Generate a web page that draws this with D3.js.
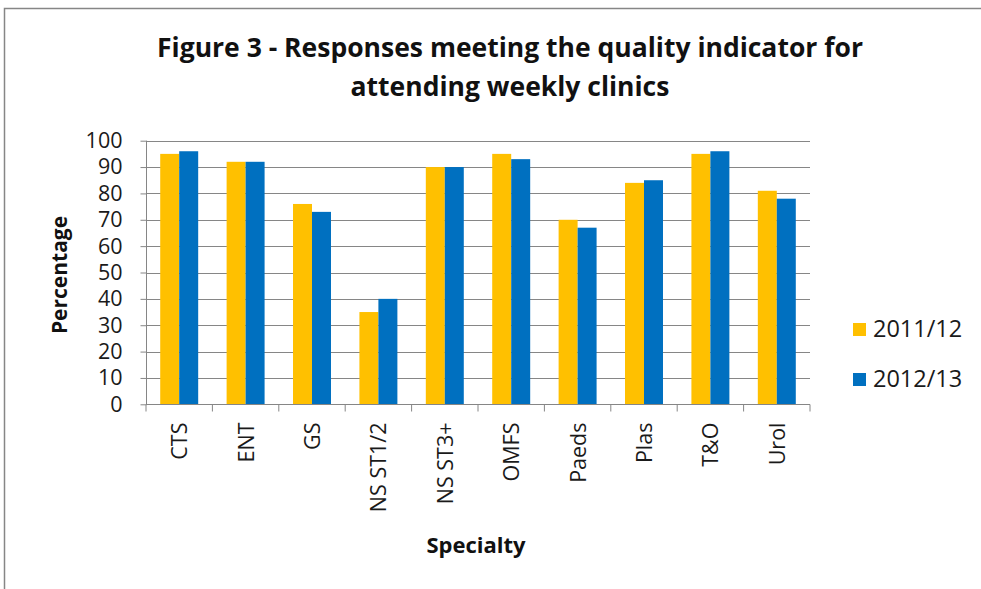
<!DOCTYPE html>
<html><head><meta charset="utf-8">
<script src="https://cdn.jsdelivr.net/npm/d3@7"></script>
<style>body{margin:0;background:#fff;} svg{display:block;}</style>
</head><body>
<script>
const categories = ["CTS","ENT","GS","NS ST1/2","NS ST3+","OMFS","Paeds","Plas","T&O","Urol"];
const seriesNames = ["2011/12","2012/13"];
const values2011 = [95,92,76,35,90,95,70,84,95,81];
const values2012 = [96,92,73,40,90,93,67,85,96,78];
const yTicks = [0,10,20,30,40,50,60,70,80,90,100];
const colors = ["#FFC000","#0070C0"];

(function(){
const W=981,H=589;
const font = "'Open Sans', 'DejaVu Sans', sans-serif";
const svg = d3.select("body").append("svg").attr("width",W).attr("height",H);
svg.append("rect").attr("x",4.5).attr("y",8.5).attr("width",1100).attr("height",1100)
  .attr("fill","#fff").attr("stroke","#868686").attr("stroke-width",1.5);

const pL=146, pR=810, pT=140.7, pB=404.3;
const x = d3.scaleBand().domain(categories).range([pL,pR]).paddingInner(0.428).paddingOuter(0.214);
const xs = d3.scaleBand().domain(seriesNames).range([0,x.bandwidth()]);
const y = d3.scaleLinear().domain([0,100]).range([pB,pT]);

svg.append("g").selectAll("line").data(yTicks.filter(d=>d>0)).join("line")
  .attr("x1",pL).attr("x2",pR).attr("y1",d=>Math.round(y(d))+0.5).attr("y2",d=>Math.round(y(d))+0.5)
  .attr("stroke","#868686").attr("stroke-width",1);

const data = categories.map((c,i)=>({c, v:[values2011[i],values2012[i]]}));
const g = svg.append("g");
data.forEach(d=>{
  seriesNames.forEach((s,j)=>{
    g.append("rect").attr("x",x(d.c)+xs(s)).attr("width",xs.bandwidth())
      .attr("y",y(d.v[j])).attr("height",y(0)-y(d.v[j])).attr("fill",colors[j]);
  });
});

const yAxis = d3.axisLeft(y).tickValues(yTicks).tickSize(6).tickPadding(18).tickFormat(d3.format("d"));
const ya = svg.append("g").attr("transform",`translate(${pL+0.5},0)`).call(yAxis);
ya.select(".domain").attr("stroke","#868686").attr("d",`M0,${pT}V${pB}`);
ya.selectAll(".tick line").attr("stroke","#868686");
ya.selectAll("text").attr("font-family",font).attr("font-size",21.5).attr("fill","#1a1a1a");

const xa = svg.append("g").attr("transform",`translate(0,${Math.round(pB)+0.5})`);
xa.append("line").attr("x1",pL).attr("x2",pR).attr("stroke","#868686");
const bounds = d3.range(categories.length+1).map(i=>pL+i*(pR-pL)/categories.length);
xa.selectAll("line.tk").data(bounds).join("line").attr("class","tk")
  .attr("x1",d=>d).attr("x2",d=>d).attr("y1",0).attr("y2",7).attr("stroke","#868686");
xa.selectAll("text").data(categories).join("text")
  .attr("transform",d=>`translate(${x(d)+x.bandwidth()/2+8},18) rotate(-90)`)
  .attr("text-anchor","end").attr("font-family",font).attr("font-size",21.5).attr("fill","#1a1a1a")
  .text(d=>d);

svg.append("text").attr("transform","translate(67,275) rotate(-90)").attr("text-anchor","middle")
  .attr("font-family",font).attr("font-weight","bold").attr("font-size",21).attr("fill","#111").text("Percentage");
svg.append("text").attr("x",476).attr("y",553).attr("text-anchor","middle")
  .attr("font-family",font).attr("font-weight","bold").attr("font-size",22).attr("fill","#111").text("Specialty");

const tl = ["Figure 3 - Responses meeting the quality indicator for","attending weekly clinics"];
svg.append("text").attr("x",510).attr("y",57).attr("text-anchor","middle")
  .attr("font-family",font).attr("font-weight","bold").attr("font-size",26.5).attr("fill","#111").text(tl[0]);
svg.append("text").attr("x",510).attr("y",96).attr("text-anchor","middle")
  .attr("font-family",font).attr("font-weight","bold").attr("font-size",26.5).attr("fill","#111").text(tl[1]);

const lg = svg.append("g");
seriesNames.forEach((s,i)=>{
  const cy = 329 + i*50;
  lg.append("rect").attr("x",853).attr("y",cy-6).attr("width",13).attr("height",13).attr("fill",colors[i]);
  lg.append("text").attr("x",873).attr("y",cy+8).attr("font-family",font).attr("font-size",23.5).attr("fill","#1a1a1a").text(s);
});
})();
</script>
</body></html>
